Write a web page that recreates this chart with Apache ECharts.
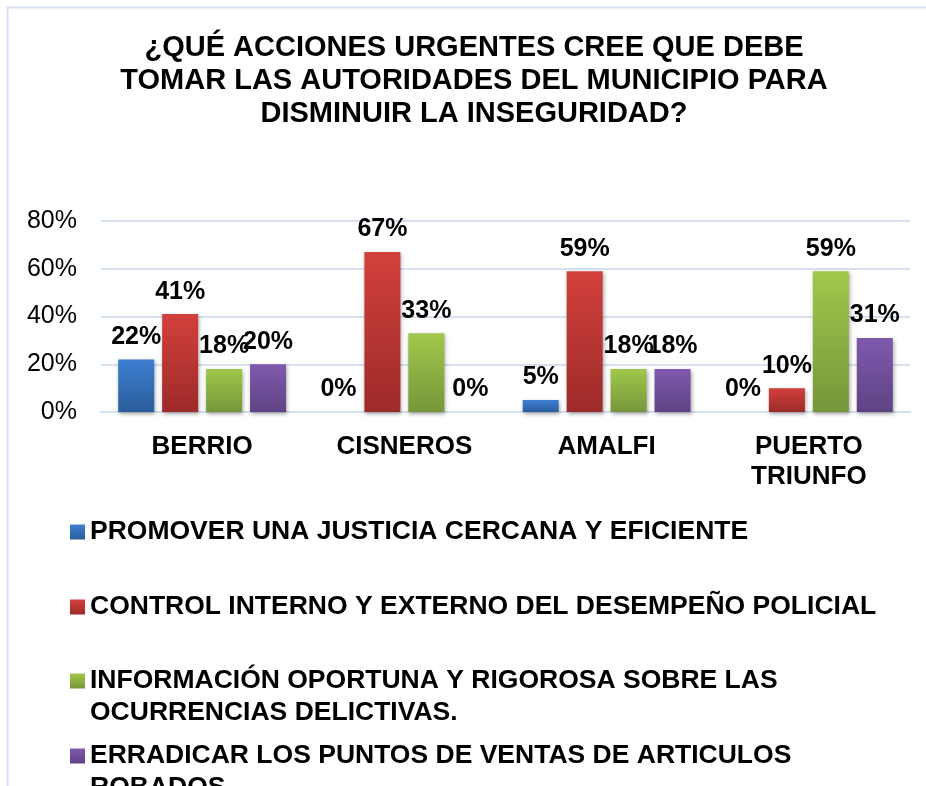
<!DOCTYPE html>
<html>
<head>
<meta charset="utf-8">
<script src="https://cdn.jsdelivr.net/npm/echarts@6/dist/echarts.min.js"></script>
<style>
html,body{margin:0;padding:0;background:#fff;}
#chart{width:926px;height:786px;}
</style>
</head>
<body>
<div id="chart"></div>
<script>
const titleText = '¿QUÉ ACCIONES URGENTES CREE QUE DEBE\nTOMAR LAS AUTORIDADES DEL MUNICIPIO PARA\nDISMINUIR LA INSEGURIDAD?';
const categories = ['BERRIO', 'CISNEROS', 'AMALFI', 'PUERTO\nTRIUNFO'];
const seriesNames = [
  'PROMOVER UNA JUSTICIA CERCANA Y EFICIENTE',
  'CONTROL INTERNO Y EXTERNO DEL DESEMPEÑO POLICIAL',
  'INFORMACIÓN OPORTUNA Y RIGOROSA SOBRE LAS\nOCURRENCIAS DELICTIVAS.',
  'ERRADICAR LOS PUNTOS DE VENTAS DE ARTICULOS\nROBADOS.'
];
const promover = [22, 0, 5, 0];
const control = [41, 67, 59, 10];
const informacion = [18, 33, 18, 59];
const erradicar = [20, 0, 18, 31];
const yTicks = [0, 20, 40, 60, 80];

const FONT = '"Liberation Sans", Arial, sans-serif';
const gradients = [
  ['#3d7fd2', '#2c5d9b'],
  ['#d2403c', '#9d2b29'],
  ['#a0c84b', '#76963a'],
  ['#8059ad', '#5e4384']
];
const values = [promover, control, informacion, erradicar];

function grad(c) {
  return new echarts.graphic.LinearGradient(0, 0, 0, 1, [
    {offset: 0, color: c[0]}, {offset: 1, color: c[1]}
  ]);
}

const series = seriesNames.map((name, i) => ({
  name: name,
  type: 'bar',
  data: values[i],
  barGap: '22%',
  barCategoryGap: '17%',
  itemStyle: {
    color: grad(gradients[i]),
    shadowColor: 'rgba(0,0,0,0.35)',
    shadowBlur: 4,
    shadowOffsetX: 1,
    shadowOffsetY: 2
  },
  label: {
    show: true,
    position: 'top',
    distance: 10,
    formatter: '{c}%',
    color: '#000',
    fontFamily: FONT,
    fontWeight: 'bold',
    fontSize: 25
  }
}));

// first-line centre of each legend entry (layout only)
const legendCenters = [532, 607, 681, 756];
const legends = seriesNames.map((name, i) => {
  const multi = name.indexOf('\n') >= 0;
  return {
    data: [name],
    orient: 'vertical',
    left: 70,
    top: legendCenters[i] - (multi ? 48 : 16),
    padding: 0,
    itemWidth: 15,
    itemHeight: 15,
    selectedMode: false,
    icon: 'rect',
    itemStyle: {color: grad(gradients[i])},
    formatter: function (n) { return n.indexOf('\n') >= 0 ? '\n' + n : n; },
    textStyle: {
      color: '#000',
      fontFamily: FONT,
      fontWeight: 'bold',
      fontSize: 26.5,
      lineHeight: 32
    }
  };
});

const chart = echarts.init(document.getElementById('chart'), null, {renderer: 'canvas'});
chart.setOption({
  animation: false,
  backgroundColor: '#fff',
  title: {
    text: titleText,
    left: 469,
    top: 26,
    textAlign: 'center',
    textStyle: {
      color: '#000',
      fontFamily: FONT,
      fontWeight: 'bold',
      fontSize: 29,
      lineHeight: 33
    }
  },
  graphic: [{
    type: 'rect',
    shape: {x: 7.5, y: 7.5, width: 1000, height: 1000},
    style: {fill: 'none', stroke: '#d6e1f1', lineWidth: 2},
    silent: true,
    z: -1
  }],
  legend: legends,
  grid: {left: 101, right: 16, top: 221, bottom: 374, containLabel: false},
  xAxis: {
    type: 'category',
    data: categories,
    axisLine: {show: true, lineStyle: {color: '#d6e1f1', width: 2}},
    axisTick: {show: false},
    axisLabel: {
      color: '#000',
      fontFamily: FONT,
      fontWeight: 'bold',
      fontSize: 26,
      lineHeight: 30,
      margin: 20
    }
  },
  yAxis: {
    type: 'value',
    min: 0,
    max: 80,
    interval: 20,
    axisLine: {show: false},
    axisTick: {show: false},
    splitLine: {lineStyle: {color: '#d6e1f1', width: 2}},
    axisLabel: {
      color: '#000',
      fontFamily: FONT,
      fontSize: 25,
      margin: 24,
      formatter: function (v) { return yTicks.indexOf(v) >= 0 ? v + '%' : ''; }
    }
  },
  series: series
});
</script>
</body>
</html>
